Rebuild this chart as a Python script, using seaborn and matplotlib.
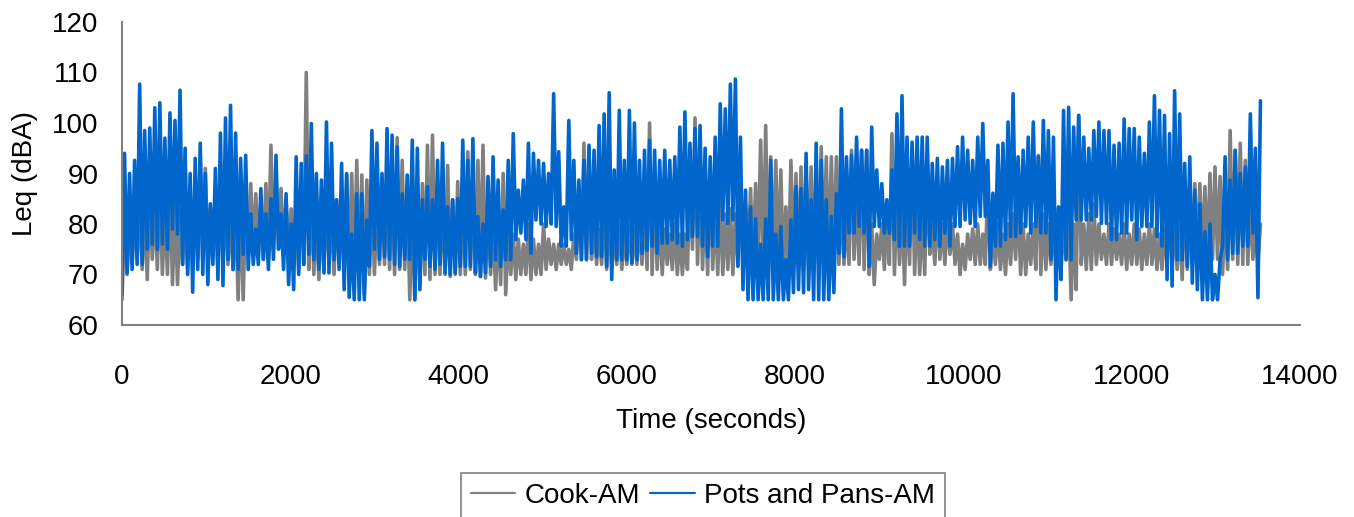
import numpy as np
import pandas as pd
import seaborn as sns
import matplotlib
matplotlib.use("Agg")
import matplotlib.pyplot as plt

# data: per 60 s bin, lowest and highest Leq (dBA)
bin_sec = 60

pots_hi = [94, 90, 92.6, 107.7, 98.5, 99, 103, 104, 97, 102,
           100.5, 106.5, 95, 90, 93, 96, 90, 84, 91, 98,
           101, 103.5, 98, 93, 93.6, 82, 79, 87, 82, 85,
           93.6, 82, 86, 80, 93.3, 92, 93.5, 99.9, 90, 88.7,
           100.2, 96, 84.8, 92, 90, 78, 86, 86, 80.8, 98.5,
           96, 90, 98.9, 97.6, 95.3, 86, 89.7, 96.6, 95, 84.8,
           87.4, 84.8, 92.6, 96, 83.4, 84.8, 85, 96.6, 92.6, 96.9,
           81.5, 80, 89.4, 93.3, 88.7, 82.8, 92.6, 97.9, 86.7, 88.7,
           96, 94, 92.6, 92, 90, 105.8, 94.3, 83.4, 100.5, 92.6,
           88.7, 92.6, 95.6, 94.6, 99.5, 101.8, 106, 90.7, 102.5, 92.6,
           102.5, 100, 92.6, 94.6, 96.6, 94.6, 92.6, 94.6, 92.6, 93.3,
           99.2, 102.2, 96, 98.9, 99.5, 95, 93.3, 97.2, 103.8, 102.8,
           107.7, 108.7, 97.2, 86.7, 83.4, 81, 76, 81, 92.6, 78,
           79.5, 73, 80.8, 87.4, 87, 94, 84.8, 96, 92.6, 84.8,
           81.5, 86, 102.8, 93.3, 93.6, 97.2, 94.6, 94.6, 99.2, 90.7,
           88, 84.8, 90.7, 101.8, 105.4, 97.2, 96.2, 97.2, 97.2, 97.2,
           92, 93, 91.3, 92.6, 93, 95.3, 97.2, 94.6, 92.6, 97.2,
           99.9, 92.6, 86.1, 95.6, 96, 100.2, 105.8, 93.3, 94.6, 97.2,
           100.2, 93.3, 100.5, 98.5, 97.2, 83.4, 102.5, 103.1, 99.2, 101.5,
           97.2, 95, 98.5, 100.2, 98.5, 98.5, 95.6, 96, 100.8, 98.9,
           98.9, 97.2, 94, 100.2, 105.4, 102.5, 101.5, 97.9, 106.4, 101.8,
           92, 93.3, 86.7, 84, 78.5, 80, 70, 73, 93.3, 88.7,
           94.6, 90, 91.3, 101.8, 95, 104.4]

pots_lo = [66, 70.3, 71, 72, 72, 75, 76, 75, 76, 75,
           79, 78, 72, 70, 66.5, 71, 70, 68, 72, 69,
           67.8, 73, 71, 71, 74, 71, 72, 72, 73, 71,
           73, 75, 71, 68, 67, 70, 72, 74, 72.9, 71,
           70.3, 70.3, 72.9, 71, 67, 65.5, 65, 65, 65, 71.6,
           75, 73, 73.5, 73, 72, 71.6, 73, 73, 65, 67,
           73, 71.6, 71, 72, 70.3, 70, 70.3, 71.6, 71.6, 71.6,
           70.3, 69.6, 70.3, 71.6, 72.9, 71.6, 72.9, 72.9, 76.9, 78.2,
           76.9, 74.2, 80.8, 80, 79.5, 80, 79.5, 75.6, 75.6, 76.9,
           74.2, 72.9, 72.9, 74.2, 73.5, 73.5, 71.6, 69, 72.9, 72.9,
           72.9, 72.3, 72.9, 74.2, 74.8, 75.6, 74.2, 76.2, 76.2, 76.9,
           76.2, 75.6, 76.9, 77.5, 77.5, 75.6, 73.5, 75.6, 75.6, 80.8,
           80.1, 80.8, 71.6, 67, 65, 65, 65, 65, 65, 65,
           65, 65, 65, 66.4, 67, 66.4, 67, 65, 65, 65,
           65, 66.4, 74.2, 73.5, 78.2, 78.2, 79.5, 78.2, 71.6, 79.5,
           79.5, 78.2, 78.2, 76.9, 75.6, 75.6, 75.6, 78.2, 76.9, 75.6,
           75.6, 76.9, 75.6, 78.2, 75.6, 79.5, 79.5, 80.8, 80.1, 79.5,
           81.5, 81.5, 71.6, 75.6, 75.6, 76.9, 77.5, 77.5, 78.2, 79.5,
           78.2, 79.5, 78.2, 78.2, 72.9, 65, 69, 72.9, 72.9, 80.8,
           80.8, 80.8, 80.8, 81.5, 80.1, 80.1, 76.9, 76.9, 78.2, 78.2,
           80.8, 76.9, 79.5, 79.5, 79.5, 77.5, 75.6, 69, 67.7, 72.9,
           72.9, 71.6, 68.3, 67, 65, 65, 65, 65, 75.6, 72.9,
           74.2, 74.2, 75.6, 75.6, 78.2, 65.4]

cook_hi = [84, 80, 82, 85, 84, 86, 85, 88, 84, 89,
           84, 83, 82, 86, 87, 93, 91, 83, 84, 89,
           84, 82, 84, 85, 84, 88, 86, 84, 88, 95.6,
           89, 87, 85, 83, 82, 88, 110, 86, 82, 84,
           85, 83, 84.8, 86, 89.7, 90, 92.6, 89.7, 88.7, 86,
           84, 89, 86, 88, 97.1, 92.6, 87, 85, 84, 88,
           95.6, 97.6, 88, 86, 91.6, 84.8, 88.4, 85, 94.3, 87,
           92.6, 95.6, 85, 80, 80, 90, 78, 78, 77, 76,
           80, 77, 76, 80, 77, 76, 76, 76, 75, 78,
           84, 96, 95, 82, 79, 84, 82, 78, 80, 78,
           80, 79, 81, 84, 100, 88, 82, 79, 78, 80,
           78, 78, 88, 101, 90, 86, 90, 84, 85, 82,
           83, 82, 86, 84, 87, 88, 96.6, 99.5, 93.3, 92.6,
           90.7, 83.4, 92.6, 90, 91.3, 90.7, 91.3, 92, 95.3, 93.3,
           93.3, 93.3, 86, 82, 94.6, 86, 94.6, 94.6, 80, 78,
           80, 82, 97.9, 86, 84, 86, 95, 84, 82, 93.3,
           80, 84, 80, 82, 80, 78, 76, 78, 79, 80,
           78, 88, 78, 80, 78, 80, 82, 85, 80, 78,
           80, 93.6, 82, 80, 82, 83, 80, 82, 80, 101.5,
           80, 82, 84, 80, 78, 80, 79, 78, 80, 78,
           80, 79, 78, 80, 79, 78, 79, 84, 80, 80,
           88, 82, 88, 88, 87.4, 90, 91.3, 89.4, 84, 98.5,
           94.6, 96, 92.6, 86, 80, 80]

cook_lo = [65, 70, 72, 73, 71, 69, 73, 71, 70, 70,
           68, 68, 72, 71, 73, 73, 73, 75, 73, 71,
           72, 72, 71, 65, 65, 75, 75, 74, 73, 73,
           75, 76, 74, 72, 72, 71, 72, 71, 70, 69,
           71, 72, 70, 72, 70, 71, 70, 68, 66, 70,
           70, 72, 72, 71, 70, 71, 71, 65, 65, 68,
           70, 69, 70, 70, 70, 69.6, 70, 70, 70, 71,
           70, 69.6, 69.3, 70, 67, 68, 66, 70, 69, 70,
           70, 69, 70, 70, 71, 72, 71, 72, 72, 71,
           73, 73, 73, 73, 72, 72, 71, 71, 72, 71,
           72, 72, 72, 72, 71, 70, 71, 70, 72, 71,
           70, 70, 71, 75, 72, 71, 70, 71, 70, 70,
           71, 70, 72, 72, 72, 72, 73, 71, 70, 72,
           71, 70, 71, 72, 71, 72, 72, 71, 72, 73,
           72, 73, 72, 72, 72, 73, 72, 71, 70, 68,
           73, 71, 72, 70, 72, 68, 72, 70, 70, 70,
           74, 72, 73, 72, 74, 72, 70, 71, 73, 72,
           72, 72, 71, 72, 71, 70, 72, 73, 70, 70,
           72, 71, 70, 71, 72, 71, 71, 73, 65, 67,
           72, 71, 71, 72, 73, 72, 72, 73, 72, 71,
           72, 72, 71, 72, 72, 71, 71, 72, 72, 71,
           69, 71, 72, 73, 73, 72, 73, 73, 70, 71,
           73, 72, 72, 72, 73, 72]

series_names = ["Cook-AM", "Pots and Pans-AM"]
colors = ["#808080", "#0066CC"]
y_ticks = [60, 70, 80, 90, 100, 110, 120]
x_ticks = [0, 2000, 4000, 6000, 8000, 10000, 12000, 14000]


def to_long(name, lo, hi):
    # low then high inside each bin, so the line sweeps the bin's range
    t = np.arange(len(lo)) * bin_sec
    times = np.column_stack((t, t + bin_sec / 2)).ravel()
    vals = np.column_stack((lo, hi)).ravel()
    return pd.DataFrame({"time": times, "leq": vals, "series": name})


df = pd.concat([to_long(series_names[0], cook_lo, cook_hi),
                to_long(series_names[1], pots_lo, pots_hi)], ignore_index=True)

sns.set_style("white")
plt.rcParams["font.family"] = ["Liberation Sans", "DejaVu Sans"]
plt.rcParams["text.color"] = "black"
plt.rcParams["axes.labelcolor"] = "black"

W, H = 1354, 517
fig = plt.figure(figsize=(W / 100, H / 100), dpi=100)
ax = fig.add_axes([122 / W, 1 - 325 / H, (1300 - 122) / W, (325 - 22) / H])

sns.lineplot(data=df, x="time", y="leq", hue="series",
             palette=dict(zip(series_names, colors)),
             estimator=None, sort=False, linewidth=2.6, ax=ax)

ax.set_xlim(0, 14000)
ax.set_ylim(60, 120)
ax.set_xticks(x_ticks)
ax.set_yticks(y_ticks)
ax.set_xticklabels([str(v) for v in x_ticks])
ax.set_yticklabels([str(v) for v in y_ticks])

for s in ["top", "right"]:
    ax.spines[s].set_visible(False)
for s in ["left", "bottom"]:
    ax.spines[s].set_color("#808080")
    ax.spines[s].set_linewidth(1.5)

ax.tick_params(axis="y", length=7, width=1.5, color="#808080",
               labelcolor="black", labelsize=20, pad=10, direction="out")
ax.tick_params(axis="x", length=4, width=1.5, color="#808080",
               labelcolor="black", labelsize=20, pad=24, direction="out")

ax.set_xlabel("Time (seconds)", fontsize=20)
ax.set_ylabel("Leq (dBA)", fontsize=20)
ax.xaxis.set_label_coords(0.5, (325 - 408) / 303)
ax.yaxis.set_label_coords((38 - 122) / 1178, 0.5)

handles, labels = ax.get_legend_handles_labels()
leg = ax.legend(handles, labels, ncol=2, loc="upper left",
                bbox_to_anchor=(461 / W, 1 - 473 / H),
                bbox_transform=fig.transFigure, borderaxespad=0,
                fontsize=20, frameon=True, fancybox=False, framealpha=1,
                edgecolor="#808080", handlelength=1.6, handletextpad=0.35,
                columnspacing=0.35, borderpad=0.35)
leg.get_frame().set_linewidth(1.2)
for line in leg.get_lines():
    line.set_linewidth(1.6)

fig.savefig("out.png", dpi=100)
